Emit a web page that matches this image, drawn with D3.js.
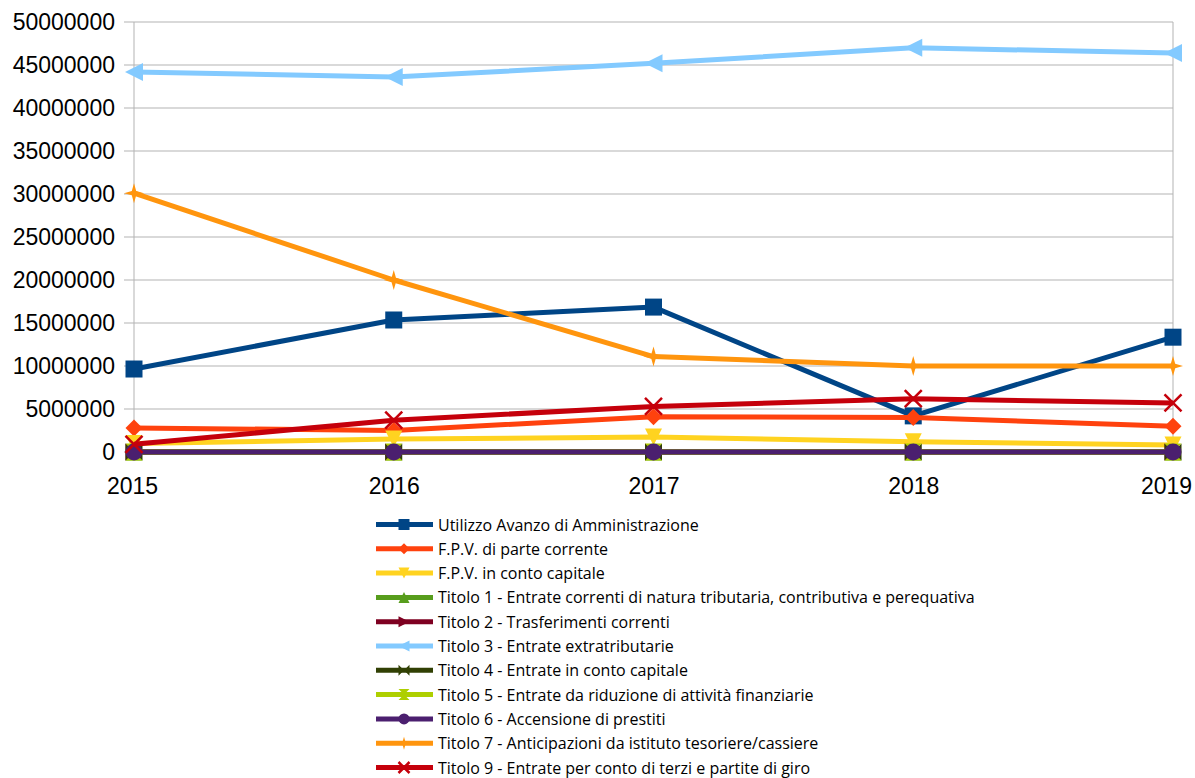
<!DOCTYPE html>
<html>
<head>
<meta charset="utf-8">
<script src="https://cdn.jsdelivr.net/npm/d3@7"></script>
<style>
  body { margin: 0; background: #fff; }
  svg { display: block; }
</style>
</head>
<body>
<svg></svg>
<script>
// dati (euro)
let years = ['2015', '2016', '2017', '2018', '2019']
let yTicks = [0, 5000000, 10000000, 15000000, 20000000, 25000000, 30000000, 35000000, 40000000, 45000000, 50000000]

let seriesNames = [
    'Utilizzo Avanzo di Amministrazione',
    'F.P.V. di parte corrente',
    'F.P.V. in conto capitale',
    'Titolo 1 - Entrate correnti di natura tributaria, contributiva e perequativa',
    'Titolo 2 - Trasferimenti correnti',
    'Titolo 3 - Entrate extratributarie',
    'Titolo 4 - Entrate in conto capitale',
    'Titolo 5 - Entrate da riduzione di attività finanziarie',
    'Titolo 6 - Accensione di prestiti',
    'Titolo 7 - Anticipazioni da istituto tesoriere/cassiere',
    'Titolo 9 - Entrate per conto di terzi e partite di giro'
]

let avanzo     = [9650000, 15350000, 16850000, 4200000, 13350000]
let fpvCorr    = [2800000, 2500000, 4100000, 4000000, 3000000]
let fpvCap     = [1000000, 1500000, 1750000, 1200000, 800000]
let titolo1    = [0, 0, 0, 0, 0]
let titolo2    = [0, 0, 0, 0, 0]
let titolo3    = [44200000, 43600000, 45200000, 47000000, 46400000]
let titolo4    = [0, 0, 0, 0, 0]
let titolo5    = [0, 0, 0, 0, 0]
let titolo6    = [0, 0, 0, 0, 0]
let titolo7    = [30100000, 20000000, 11100000, 10000000, 10000000]
let titolo9    = [900000, 3700000, 5300000, 6200000, 5700000]

let allValues = [avanzo, fpvCorr, fpvCap, titolo1, titolo2, titolo3, titolo4, titolo5, titolo6, titolo7, titolo9]

// colori tipo LibreOffice
let colors = ['#004586', '#ff420e', '#ffd320', '#579d1c', '#7e0021', '#83caff', '#314004', '#aecf00', '#4b1f6f', '#ff950e', '#c5000b']
let markers = ['square', 'diamond', 'triDown', 'triUp', 'triRight', 'triLeft', 'bowtie', 'hourglass', 'circle', 'star', 'cross']

let width = 1195
let height = 778
let margin = { left: 134, right: 22, top: 22, bottom: 326 }

let svg = d3.select('svg').attr('width', width).attr('height', height)

let x = d3.scalePoint().domain(years).range([margin.left, width - margin.right])
let y = d3.scaleLinear().domain([0, 50000000]).range([height - margin.bottom, margin.top])

// griglia orizzontale
svg.append('g')
    .selectAll('line')
    .data(yTicks)
    .enter().append('line')
    .attr('x1', margin.left - 10)
    .attr('x2', width - margin.right)
    .attr('y1', d => y(d))
    .attr('y2', d => y(d))
    .attr('stroke', '#b3b3b3')
    .attr('stroke-width', 1)

// asse y e bordo destro
svg.append('line')
    .attr('x1', margin.left).attr('x2', margin.left)
    .attr('y1', margin.top).attr('y2', y(0) + 8)
    .attr('stroke', '#b3b3b3')
svg.append('line')
    .attr('x1', width - margin.right).attr('x2', width - margin.right)
    .attr('y1', margin.top).attr('y2', y(0) + 8)
    .attr('stroke', '#b3b3b3')

let yAxis = d3.axisLeft(y).tickValues(yTicks).tickFormat(d3.format('d')).tickSize(0).tickPadding(19)
let gy = svg.append('g').attr('transform', `translate(${margin.left},0)`).call(yAxis)
gy.select('.domain').remove()
gy.selectAll('text')
    .attr('font-family', 'Liberation Sans')
    .attr('font-size', 23)
    .attr('fill', '#000')

let xAxis = d3.axisBottom(x).tickSize(0).tickPadding(26)
let gx = svg.append('g').attr('transform', `translate(0,${y(0)})`).call(xAxis)
gx.select('.domain').remove()
gx.selectAll('text')
    .attr('font-family', 'Liberation Sans')
    .attr('font-size', 23)
    .attr('fill', '#000')
    .attr('dx', (d, i) => i === 0 ? -2 : (i === years.length - 1 ? -7 : 0))

// forme dei marker
function markerPath(type, s) {
    let h = s / 2
    switch (type) {
        case 'square': return `M${-h},${-h}H${h}V${h}H${-h}Z`
        case 'diamond': return `M0,${-h}L${h},0L0,${h}L${-h},0Z`
        case 'triDown': return `M${-h},${-h}L${h},${-h}L0,${h}Z`
        case 'triUp': return `M${-h},${h}L${h},${h}L0,${-h}Z`
        case 'triRight': return `M${-h},${-h}L${h},0L${-h},${h}Z`
        case 'triLeft': return `M${h},${-h}L${-h},0L${h},${h}Z`
        case 'bowtie': return `M${-h},${-h}L0,0L${-h},${h}ZM${h},${-h}L0,0L${h},${h}Z`
        case 'hourglass': return `M${-h},${-h}L${h},${-h}L0,0ZM${-h},${h}L${h},${h}L0,0Z`
        case 'circle': return `M${h},0A${h},${h},0,1,1,${-h},0A${h},${h},0,1,1,${h},0Z`
        case 'star': {
            let k = h * 0.22
            return `M0,${-h}L${k},${-k}L${h},0L${k},${k}L0,${h}L${-k},${k}L${-h},0L${-k},${-k}Z`
        }
    }
    return ''
}

function drawMarker(g, type, color, cx, cy, s) {
    if (type === 'cross') {
        let h = s / 2
        g.append('path')
            .attr('d', `M${cx - h},${cy - h}L${cx + h},${cy + h}M${cx - h},${cy + h}L${cx + h},${cy - h}`)
            .attr('stroke', color)
            .attr('stroke-width', 2.5)
            .attr('fill', 'none')
    } else {
        g.append('path')
            .attr('d', markerPath(type, s))
            .attr('transform', `translate(${cx},${cy})`)
            .attr('fill', color)
    }
}

let line = d3.line()
    .x((d, i) => x(years[i]))
    .y(d => y(d))

let plot = svg.append('g')
allValues.forEach((vals, si) => {
    let g = plot.append('g')
    g.append('path')
        .attr('d', line(vals))
        .attr('fill', 'none')
        .attr('stroke', colors[si])
        .attr('stroke-width', 5)
        .attr('stroke-linejoin', 'round')
    vals.forEach((v, i) => {
        let sz = markers[si] === 'star' ? 20 : (markers[si] === 'triLeft' ? 18 : 17)
        drawMarker(g, markers[si], colors[si], x(years[i]), y(v), sz)
    })
})

// legenda
let legend = svg.append('g').attr('transform', 'translate(376,524.5)')
seriesNames.forEach((name, si) => {
    let row = legend.append('g').attr('transform', `translate(0,${si * 24.3})`)
    row.append('line')
        .attr('x1', 0).attr('x2', 57)
        .attr('y1', 0).attr('y2', 0)
        .attr('stroke', colors[si])
        .attr('stroke-width', 5)
    drawMarker(row, markers[si], colors[si], 28, 0, markers[si] === 'star' ? 13 : 11)
    row.append('text')
        .attr('x', 62)
        .attr('y', 6)
        .attr('font-family', 'Open Sans')
        .attr('font-size', 16)
        .attr('fill', '#000')
        .text(name)
})
</script>
</body>
</html>
